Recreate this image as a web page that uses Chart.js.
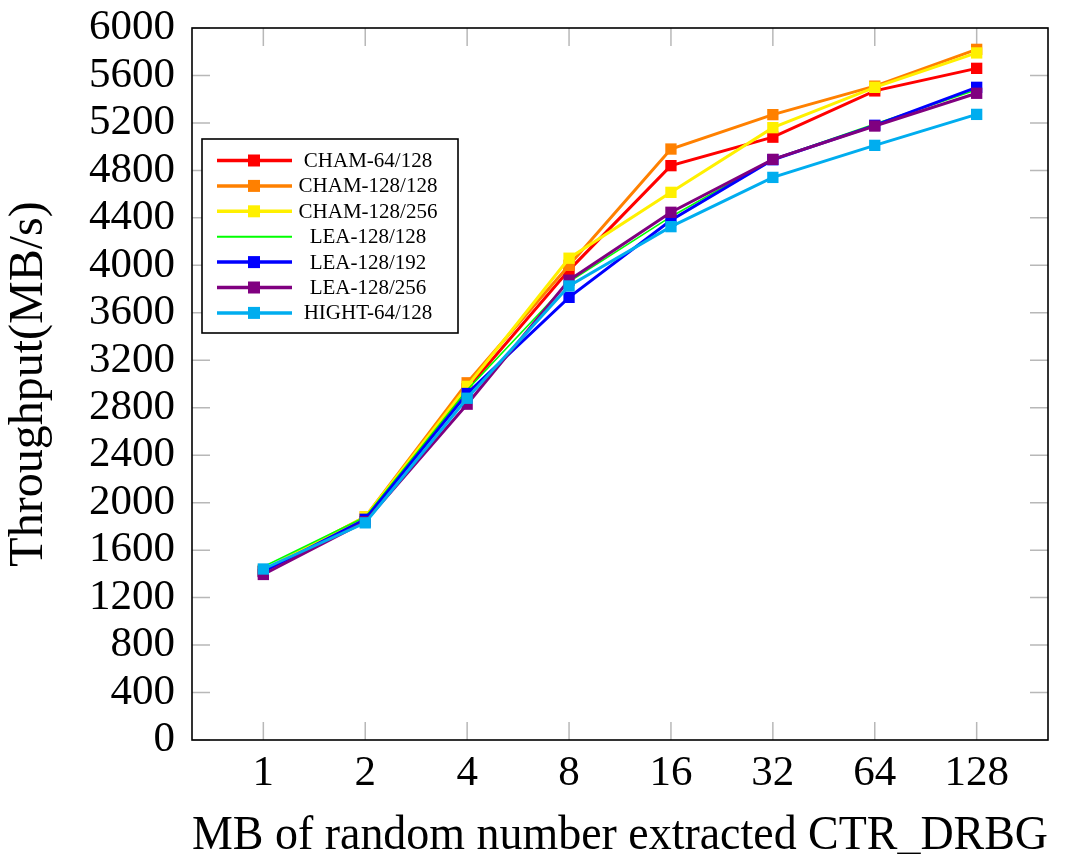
<!DOCTYPE html>
<html>
<head>
<meta charset="utf-8">
<script src="https://cdn.jsdelivr.net/npm/chart.js@4.4.0/dist/chart.umd.min.js"></script>
<style>
html,body{margin:0;padding:0;background:#fff;}
#wrap{width:1065px;height:854px;position:relative;}
</style>
</head>
<body>
<div id="wrap"><canvas id="c" width="1065" height="854"></canvas></div>
<script>
// ---- data ----
const categories = ['1', '2', '4', '8', '16', '32', '64', '128'];
const yTickValues = [0, 400, 800, 1200, 1600, 2000, 2400, 2800, 3200, 3600, 4000, 4400, 4800, 5200, 5600, 6000];
const seriesNames = ['CHAM-64/128', 'CHAM-128/128', 'CHAM-128/256', 'LEA-128/128', 'LEA-128/192', 'LEA-128/256', 'HIGHT-64/128'];
const cham64_128  = [1420, 1860, 2960, 3960, 4840, 5080, 5470, 5660];
const cham128_128 = [1430, 1880, 3010, 4000, 4980, 5270, 5510, 5820];
const cham128_256 = [1430, 1880, 2980, 4060, 4615, 5160, 5500, 5790];
const lea128_128  = [1460, 1880, 2950, 3860, 4410, 4895, 5190, 5480];
const lea128_192  = [1420, 1860, 2920, 3730, 4380, 4890, 5180, 5500];
const lea128_256  = [1395, 1840, 2830, 3875, 4447, 4893, 5174, 5450];
const hight64_128 = [1441, 1830, 2880, 3826, 4326, 4741, 5011, 5272];
const seriesValues = [cham64_128, cham128_128, cham128_256, lea128_128, lea128_192, lea128_256, hight64_128];

// ---- styles ----
const colors = ['#ff0000', '#ff8000', '#fff000', '#00ff00', '#0000ff', '#800080', '#00adef'];
const hasMarker = [true, true, true, false, true, true, true];
const SERIF = '"Liberation Serif", "Times New Roman", serif';

const datasets = seriesValues.map((vals, i) => ({
  label: seriesNames[i],
  data: vals.map((v, j) => ({x: j, y: v})),
  borderColor: colors[i],
  backgroundColor: colors[i],
  borderWidth: hasMarker[i] ? 3 : 1.6,
  pointStyle: 'rect',
  pointRadius: hasMarker[i] ? 8 : 0,
  pointHoverRadius: hasMarker[i] ? 8 : 0,
  pointBorderWidth: 0,
  tension: 0,
  order: seriesNames.length - i
}));

const framePlugin = {
  id: 'frame',
  beforeDatasetsDraw(chart) {
    const {ctx, chartArea: a, scales} = chart;
    const L = 18;
    ctx.save();
    ctx.strokeStyle = '#b8b8b8';
    ctx.lineWidth = 1.5;
    ctx.beginPath();
    scales.x.ticks.forEach(t => {
      const px = scales.x.getPixelForValue(t.value);
      ctx.moveTo(px, a.bottom); ctx.lineTo(px, a.bottom - L);
      ctx.moveTo(px, a.top); ctx.lineTo(px, a.top + L);
    });
    scales.y.ticks.forEach(t => {
      const py = scales.y.getPixelForValue(t.value);
      ctx.moveTo(a.left, py); ctx.lineTo(a.left + L, py);
      ctx.moveTo(a.right, py); ctx.lineTo(a.right - L, py);
    });
    ctx.stroke();
    ctx.restore();
  },
  afterDraw(chart) {
    const {ctx, chartArea: a} = chart;
    ctx.save();
    ctx.strokeStyle = '#000';
    ctx.lineWidth = 1.6;
    ctx.strokeRect(a.left, a.top, a.right - a.left, a.bottom - a.top);
    // legend
    const bx = 202, by = 139, bw = 256, bh = 194;
    ctx.fillStyle = '#fff';
    ctx.fillRect(bx, by, bw, bh);
    ctx.strokeRect(bx, by, bw, bh);
    const rowH = 25.4, y0 = 160.5;
    ctx.font = '21px ' + SERIF;
    ctx.textAlign = 'center';
    ctx.textBaseline = 'middle';
    seriesNames.forEach((name, i) => {
      const y = y0 + i * rowH;
      ctx.strokeStyle = colors[i];
      ctx.lineWidth = hasMarker[i] ? 3.5 : 2;
      ctx.beginPath();
      ctx.moveTo(217, y); ctx.lineTo(292, y);
      ctx.stroke();
      if (hasMarker[i]) {
        ctx.fillStyle = colors[i];
        ctx.fillRect(254 - 6, y - 6, 12, 12);
      }
      ctx.fillStyle = '#000';
      ctx.fillText(name, 368, y + 1);
    });
    ctx.restore();
  }
};

new Chart(document.getElementById('c'), {
  type: 'line',
  data: {datasets},
  options: {
    responsive: false,
    animation: false,
    events: [],
    layout: {padding: {left: 0, right: 17, top: 28, bottom: 0}},
    plugins: {legend: {display: false}, tooltip: {enabled: false}},
    scales: {
      x: {
        type: 'linear',
        min: -0.7,
        max: categories.length - 1 + 0.7,
        afterBuildTicks: s => { s.ticks = categories.map((_, i) => ({value: i})); },
        afterFit: s => { s.height = 114; s.paddingLeft = 0; s.paddingRight = 0; },
        grid: {display: false, drawTicks: false},
        border: {display: false},
        ticks: {
          color: '#000',
          font: {family: SERIF, size: 43},
          padding: 8,
          maxRotation: 0,
          autoSkip: false,
          callback: v => categories[v]
        },
        title: {
          display: true,
          text: 'MB of random number extracted CTR_DRBG',
          color: '#000',
          font: {family: SERIF, size: 48},
          padding: {top: 0, bottom: -11}
        }
      },
      y: {
        type: 'linear',
        min: 0,
        max: 6000,
        afterBuildTicks: s => { s.ticks = yTickValues.map(v => ({value: v})); },
        afterFit: s => { s.width = 192; s.paddingTop = 0; s.paddingBottom = 0; },
        grid: {display: false, drawTicks: false},
        border: {display: false},
        ticks: {
          color: '#000',
          font: {family: SERIF, size: 43},
          padding: 17,
          autoSkip: false,
          callback: v => String(v)
        },
        title: {
          display: true,
          text: 'Throughput(MB/s)',
          color: '#000',
          font: {family: SERIF, size: 48},
          padding: {top: 1, bottom: 0}
        }
      }
    }
  },
  plugins: [framePlugin]
});
</script>
</body>
</html>
